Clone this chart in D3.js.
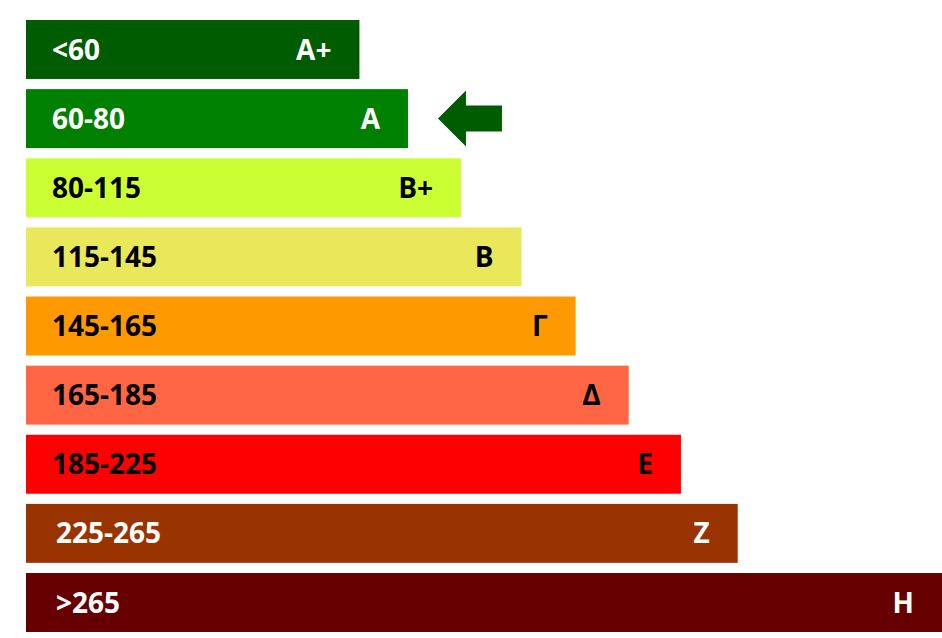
<!DOCTYPE html>
<html><head><meta charset="utf-8">
<script src="https://cdn.jsdelivr.net/npm/d3@7"></script>
<style>body{margin:0;background:#fff}</style>
</head><body>
<svg id="chart" width="942" height="638"></svg>
<script>
// energy classes, top to bottom
var ranges = ["<60","60-80","80-115","115-145","145-165","165-185","185-225","225-265",">265"];
var classes = ["A+","A","B+","B","Γ","Δ","E","Z","H"];
var lengths = [36.4, 41.7, 47.5, 54.1, 60.0, 65.8, 71.5, 77.7, 100];
var colors = ["#005c00","#008000","#ccff33","#e8e85a","#ff9900","#ff6644","#ff0000","#993300","#660000"];
var textColors = ["#fff","#fff","#000","#000","#000","#000","#000","#fff","#fff"];
var current = "A";

var svg = d3.select("#chart");
var x = d3.scaleLinear().domain([0,100]).range([26,942]);
var y = d3.scaleBand().domain(classes).range([20,632]).paddingInner(0.147).paddingOuter(0);

var g = svg.selectAll("g.row").data(classes).enter().append("g").attr("class","row");
g.append("rect")
  .attr("x", x(0)).attr("y", function(d){return y(d)})
  .attr("width", function(d,i){return x(lengths[i])-x(0)})
  .attr("height", y.bandwidth())
  .attr("fill", function(d,i){return colors[i]});
g.append("text")
  .attr("x", function(d,i){return i==7||i==8 ? 56 : 52})
  .attr("y", function(d){return y(d)+y.bandwidth()/2})
  .attr("dy","0.36em")
  .attr("font-family","Open Sans, sans-serif").attr("font-weight","bold").attr("font-size",28)
  .attr("fill", function(d,i){return textColors[i]})
  .text(function(d,i){return ranges[i]});
g.append("text")
  .attr("x", function(d,i){return x(lengths[i])-28})
  .attr("y", function(d){return y(d)+y.bandwidth()/2})
  .attr("dy","0.36em").attr("text-anchor","end")
  .attr("font-family","Open Sans, sans-serif").attr("font-weight","bold").attr("font-size",28)
  .attr("fill", function(d,i){return textColors[i]})
  .text(function(d){return d});

// arrow for the current class
var ci = classes.indexOf(current);
var ay = y(current)+y.bandwidth()/2, ax = x(lengths[ci])+30;
svg.append("path")
  .attr("d", "M"+ax+","+ay+" L"+(ax+28)+","+(ay-28)+" L"+(ax+28)+","+(ay-13)+" L"+(ax+64)+","+(ay-13)+
    " L"+(ax+64)+","+(ay+13)+" L"+(ax+28)+","+(ay+13)+" L"+(ax+28)+","+(ay+28)+" Z")
  .attr("fill","#005c00");
</script>
</body></html>
